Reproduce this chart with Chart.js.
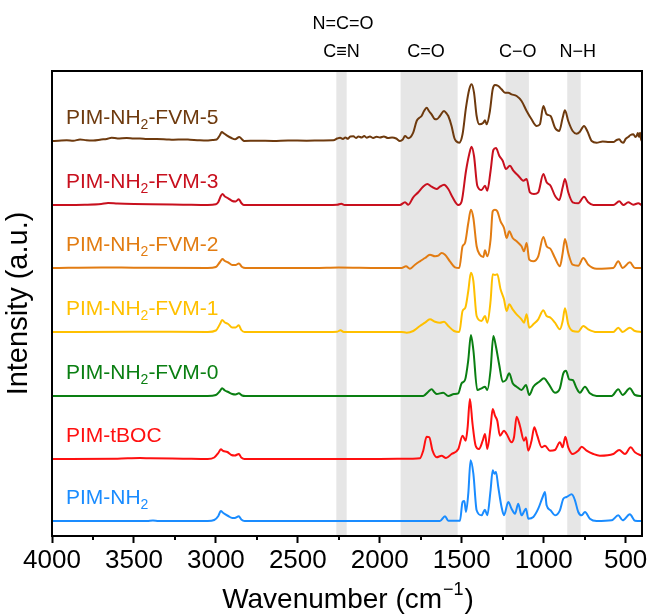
<!DOCTYPE html>
<html>
<head>
<meta charset="utf-8">
<script src="https://cdn.jsdelivr.net/npm/chart.js@4.4.1/dist/chart.umd.min.js"></script>
<style>
  body { margin: 0; background: #fff; }
  canvas { display: block; }
</style>
</head>
<body>
<canvas id="ftir" width="651" height="614"></canvas>
<script>
// FTIR spectra, [wavenumber, relative intensity] pairs, stacked by offset
const names = ['PIM-NH2-FVM-5', 'PIM-NH2-FVM-3', 'PIM-NH2-FVM-2', 'PIM-NH2-FVM-1', 'PIM-NH2-FVM-0', 'PIM-tBOC', 'PIM-NH2'];
const offsets = [395, 331, 268, 204, 140, 77, 15];

const fvm5 = [[4000,0],[3960,0.3],[3910,0.7],[3870,0.3],[3829,1.5],[3790,0.8],[3748,0.6],[3700,1.5],[3666,2],[3636,3.3],[3600,2.5],[3544,3],[3500,2.4],[3463,2.6],[3420,2],[3361,2],[3300,1.6],[3259,1.3],[3200,1.6],[3158,1.3],[3100,0.8],[3056,0.6],[3020,1],[2995,1.5],[2975,6],[2964,9],[2950,7.5],[2934,5.7],[2905,3],[2883,1.7],[2857,4],[2840,1.5],[2828,0],[2750,0.3],[2649,0],[2560,0.5],[2446,0.3],[2350,0.6],[2283,0.7],[2260,2.5],[2242,3.3],[2225,2],[2210,3.5],[2195,2.2],[2180,4.5],[2161,4.7],[2145,3],[2130,4.5],[2110,3.5],[2095,5],[2080,3.3],[2060,4.5],[2040,3],[2020,4.2],[1999,3.5],[1975,4.5],[1950,3],[1925,3.5],[1900,2.5],[1877,0],[1860,1.5],[1846,5],[1826,2.7],[1796,8.3],[1775,20],[1760,23],[1745,25],[1730,30],[1714,33.3],[1700,30],[1684,26.7],[1665,22],[1653,21.7],[1633,25],[1608,30],[1590,27],[1582,25],[1562,15],[1545,3],[1535,0],[1515,-1.7],[1495,6.7],[1474,33.3],[1454,51.7],[1440,56.7],[1425,48.3],[1409,25],[1393,16.7],[1368,18.3],[1358,20.7],[1348,16.7],[1328,30],[1311,51.7],[1297,56],[1277,55],[1257,51.7],[1236,48.3],[1216,48.3],[1196,46.7],[1165,45],[1135,40],[1104,30],[1074,21.7],[1043,15],[1023,16.7],[1002,35],[982,26.7],[958,25],[931,13.3],[905,10],[884,23.3],[870,30.7],[850,20],[823,10],[799,7.3],[779,9.3],[754,15],[734,10],[707,0],[677,-1.7],[640,-0.5],[600,-1],[575,-1],[555,1],[539,1.7],[525,-1],[514,-1.7],[500,2],[484,4],[470,6],[453,6.7],[440,4],[433,5],[425,8],[418,4],[412,8.3],[406,2],[402,0]];

const fvm3 = [[4000,0],[3800,0.3],[3700,1],[3658,2],[3600,1.5],[3500,1],[3400,0.7],[3200,0.3],[3050,0],[3000,0.7],[2985,3],[2970,9],[2960,11],[2945,8.5],[2925,6.7],[2900,4],[2880,3.5],[2860,5.7],[2845,2],[2830,0],[2700,0],[2400,0],[2260,0.3],[2235,1.3],[2215,0],[2000,0],[1877,0],[1846,2.7],[1826,0.3],[1796,7.7],[1765,12.7],[1739,17.7],[1710,21],[1684,18.3],[1653,16],[1633,18.3],[1608,20.3],[1582,16],[1556,7.7],[1521,0],[1501,3.3],[1474,34],[1454,51],[1440,58.3],[1425,49],[1405,19.3],[1379,15],[1358,19.3],[1344,14.3],[1324,34],[1307,55],[1291,57],[1271,49.3],[1250,44.3],[1230,36],[1206,39.3],[1185,34.3],[1155,29.3],[1124,24.3],[1104,26],[1084,12.7],[1059,11],[1033,12.7],[1002,31],[982,22.7],[958,19.3],[931,9.3],[905,5],[884,17.7],[870,26],[850,12.7],[823,2.7],[789,1.7],[754,8.3],[728,2.7],[697,0],[575,0],[539,3.7],[514,0],[484,2.7],[453,0.3],[423,1.7],[402,0]];

const fvm2 = [[4000,0],[3700,0.5],[3500,0.3],[3050,0],[3000,1],[2975,6],[2960,9],[2945,7],[2925,5.5],[2900,3],[2880,3],[2860,4.5],[2840,1],[2820,0],[2400,0],[2250,0.5],[2000,0],[1867,0],[1840,1.7],[1816,-0.7],[1785,3.3],[1755,6.7],[1724,10],[1694,13.3],[1663,11.7],[1643,12.3],[1623,15],[1602,13.3],[1572,6.7],[1541,0.7],[1515,0],[1495,21.7],[1480,25],[1460,45],[1444,58.3],[1429,50],[1409,21.7],[1389,13.3],[1368,11],[1358,17.7],[1344,11.7],[1324,28.3],[1311,56.7],[1297,58.3],[1283,56.7],[1263,46.7],[1242,40],[1226,30],[1210,36.7],[1189,30],[1165,26.7],[1135,21.7],[1120,16.7],[1104,25],[1088,8.3],[1063,6.7],[1033,11.7],[1002,31],[982,21.7],[958,19],[931,10],[901,1.7],[884,15],[870,29],[850,15],[823,3.3],[789,2.3],[758,10],[728,3.3],[677,-0.7],[575,0],[545,6.7],[518,0],[474,5.7],[443,0],[402,0]];

const fvm1 = [[4000,0],[3500,0.3],[3050,0],[3000,1.5],[2975,8],[2962,12],[2945,9.5],[2925,8],[2900,4.5],[2880,4.5],[2860,6.7],[2845,2],[2825,0],[2400,0],[2260,0.3],[2240,1.7],[2220,0],[2000,0],[1867,0],[1836,-0.7],[1796,1],[1755,6],[1724,9.3],[1694,12.7],[1663,10.3],[1633,9.3],[1608,10.3],[1582,6],[1547,1],[1515,0],[1495,21],[1478,24.3],[1460,41],[1444,59.3],[1429,51],[1409,16],[1379,11],[1358,16],[1344,9.3],[1324,31],[1311,57.7],[1297,57],[1283,57.7],[1263,42.7],[1242,32.7],[1226,21],[1210,27.7],[1189,22.7],[1165,17.7],[1135,12.7],[1120,9.3],[1104,17.7],[1088,4.3],[1063,7.7],[1033,12.7],[1002,21.7],[982,16],[958,14.3],[931,9.3],[901,2.7],[884,11],[870,23.7],[850,7.7],[823,1],[789,0.3],[758,6],[728,2.7],[677,0],[575,0],[545,4.3],[518,0],[474,4.3],[443,1],[402,0]];

const fvm0 = [[4000,0],[3050,0],[3000,1],[2975,5],[2962,7.7],[2945,5.5],[2925,4],[2900,2],[2880,1.5],[2860,2.7],[2840,0.5],[2820,0],[2000,0],[1735,0],[1704,4.3],[1684,6.7],[1665,3.5],[1653,2],[1613,3.3],[1582,0],[1547,2],[1521,2.7],[1501,12.7],[1480,16],[1460,36],[1444,61],[1429,46],[1405,6],[1379,7.7],[1358,9.3],[1344,6],[1324,26],[1307,60],[1291,49.3],[1271,31],[1250,14.3],[1230,16],[1210,22.7],[1189,12.7],[1165,9.3],[1135,6],[1108,11],[1088,1],[1063,9.3],[1027,14.3],[998,17.7],[972,12.7],[931,3.3],[901,7.7],[880,22.7],[864,25.3],[844,16.7],[823,16],[799,7.7],[779,3.3],[748,9.3],[718,2.7],[677,0],[585,0],[545,6.7],[518,1],[474,7.7],[443,1],[402,0]];

const tboc = [[4000,0],[3600,0.3],[3463,1],[3400,0.7],[3200,0.3],[3050,0],[3010,1.5],[2985,6],[2970,9.7],[2955,8],[2930,7],[2905,4],[2885,3.5],[2860,5],[2845,1.5],[2825,0],[2000,0],[1800,0.3],[1755,0.7],[1735,8.3],[1714,22.3],[1698,21.7],[1678,8.3],[1653,1.7],[1623,3.3],[1596,1],[1562,5],[1521,10],[1495,23.3],[1476,18.3],[1464,31.7],[1450,60],[1434,35],[1415,13.3],[1395,10],[1372,18.3],[1358,25],[1344,10],[1324,31.7],[1311,50],[1297,43.3],[1283,38.3],[1267,23.3],[1242,28.3],[1226,25],[1196,16.7],[1181,21.7],[1165,42.3],[1145,33.3],[1120,18.3],[1108,21.7],[1094,8.3],[1074,18.3],[1057,31.7],[1039,23.3],[1012,11.7],[992,13.3],[962,8.3],[931,9],[901,16.7],[884,11.7],[868,22.3],[850,11.7],[823,5],[789,8.3],[768,12.3],[738,8.3],[697,5],[657,3.3],[575,5],[539,9],[504,5],[469,11.7],[443,6.7],[402,3.3]];

const nh2 = [[4000,0],[3420,0],[3384,0.6],[3350,0],[3050,0],[3010,1],[2985,5],[2970,10],[2955,8],[2925,5],[2900,3],[2885,3],[2860,4.7],[2845,1.5],[2825,0],[1633,0],[1602,4.7],[1582,0.3],[1511,0.3],[1495,19],[1484,20],[1474,9],[1460,27.3],[1446,60.7],[1429,47.3],[1409,10.7],[1379,5.7],[1358,11.3],[1344,5.7],[1324,30.7],[1311,50.7],[1301,47.3],[1291,49],[1277,34],[1257,14],[1242,5.7],[1216,19],[1196,12.3],[1175,7.3],[1155,17.3],[1135,5.7],[1108,12.3],[1094,2.3],[1063,4],[1033,12.3],[1006,24],[992,29],[982,15.7],[958,10.7],[931,5.7],[901,10.7],[880,22.3],[860,24],[829,26.7],[809,20.7],[789,9],[768,5.7],[748,9],[718,2.3],[677,0],[585,0.7],[545,5.7],[518,0.7],[474,6.7],[443,0.3],[402,0]];

const spectra = [fvm5, fvm3, fvm2, fvm1, fvm0, tboc, nh2];
const colors = ['#6e3a0e', '#c8101e', '#e27c12', '#ffc000', '#0a7f12', '#ff1010', '#1a8cff'];

// highlighted absorption regions (wavenumber from, to) and their group labels
const bands = [[2265, 2202], [1873, 1525], [1232, 1090], [856, 774]];
const bandLabels = [['C\u2261N', 2234], ['C=O', 1718], ['C\u2212O', 1158], ['N\u2212H', 792]];
const topLabel = ['N=C=O', 2225];

const xTicks = [4000, 3500, 3000, 2500, 2000, 1500, 1000, 500];
const xMinor = [3750, 3250, 2750, 2250, 1750, 1250, 750];

const FONT = '"Liberation Sans", Arial, Helvetica, sans-serif';

// draws "PIM-NH" + subscript 2 + rest, left aligned at (x, y)
function drawSubLabel(ctx, text, x, y, size) {
  const parts = text.split('NH2');
  ctx.font = size + 'px ' + FONT;
  if (parts.length === 1) { ctx.fillText(text, x, y); return; }
  ctx.fillText(parts[0] + 'NH', x, y);
  x += ctx.measureText(parts[0] + 'NH').width;
  ctx.font = Math.round(size * 0.66) + 'px ' + FONT;
  ctx.fillText('2', x, y + 5);
  x += ctx.measureText('2').width;
  ctx.font = size + 'px ' + FONT;
  ctx.fillText(parts[1], x, y);
}

const decor = {
  id: 'decor',
  beforeDatasetsDraw(chart) {
    const { ctx, chartArea: a, scales: { x } } = chart;
    ctx.save();
    ctx.fillStyle = '#e6e6e6';
    bands.forEach(([from, to]) => {
      const x1 = x.getPixelForValue(from), x2 = x.getPixelForValue(to);
      ctx.fillRect(x1, a.top, x2 - x1, a.bottom - a.top);
    });
    ctx.restore();
  },
  afterDraw(chart) {
    const { ctx, chartArea: a, scales: { x, y } } = chart;
    ctx.save();
    // plot frame
    ctx.strokeStyle = '#000';
    ctx.lineWidth = 2;
    ctx.strokeRect(a.left, a.top, a.right - a.left, a.bottom - a.top);
    // minor ticks
    ctx.beginPath();
    xMinor.forEach(v => {
      const px = Math.round(x.getPixelForValue(v));
      ctx.moveTo(px, a.bottom);
      ctx.lineTo(px, a.bottom + 4);
    });
    ctx.stroke();

    ctx.fillStyle = '#000';
    ctx.textBaseline = 'middle';
    ctx.textAlign = 'center';
    ctx.font = '18px ' + FONT;
    bandLabels.forEach(([t, w]) => ctx.fillText(t, x.getPixelForValue(w), a.top - 19));
    ctx.fillText(topLabel[0], x.getPixelForValue(topLabel[1]), a.top - 47);

    // axis titles
    ctx.font = '28px ' + FONT;
    const main = 'Wavenumber (cm', sup = '\u22121', close = ')';
    const wMain = ctx.measureText(main).width, wClose = ctx.measureText(close).width;
    ctx.font = '18px ' + FONT;
    const wSup = ctx.measureText(sup).width;
    let tx = (a.left + a.right) / 2 - (wMain + wSup + wClose) / 2;
    ctx.textAlign = 'left';
    ctx.font = '28px ' + FONT;
    ctx.fillText(main, tx, 600);
    ctx.font = '18px ' + FONT;
    ctx.fillText(sup, tx + wMain + 1, 590);
    ctx.font = '28px ' + FONT;
    ctx.fillText(close, tx + wMain + wSup + 2, 600);

    ctx.translate(19, (a.top + a.bottom) / 2);
    ctx.rotate(-Math.PI / 2);
    ctx.textAlign = 'center';
    ctx.font = '29px ' + FONT;
    ctx.fillText('Intensity (a.u.)', 0, 0);
    ctx.restore();

    // series names
    ctx.save();
    ctx.textBaseline = 'alphabetic';
    ctx.textAlign = 'left';
    names.forEach((n, i) => {
      ctx.fillStyle = colors[i];
      drawSubLabel(ctx, n, x.getPixelForValue(3915), y.getPixelForValue(offsets[i]) - 17, 21);
    });
    ctx.restore();
  }
};

const ctx = document.getElementById('ftir').getContext('2d');
new Chart(ctx, {
  type: 'line',
  data: {
    datasets: names.map((n, i) => ({
      label: n,
      data: spectra[i].map(([w, h]) => ({ x: w, y: offsets[i] + h })),
      borderColor: colors[i],
      borderWidth: 2,
      pointRadius: 0,
      cubicInterpolationMode: 'monotone',
      fill: false
    }))
  },
  options: {
    responsive: false,
    animation: false,
    devicePixelRatio: 1,
    layout: { padding: { left: 52, top: 71, right: 9, bottom: 0 } },
    plugins: { legend: { display: false }, tooltip: { enabled: false } },
    scales: {
      x: {
        type: 'linear',
        reverse: true,
        min: 400,
        max: 4000,
        afterBuildTicks: s => { s.ticks = xTicks.map(v => ({ value: v })); },
        afterFit: s => { s.height = 78; },
        grid: { drawOnChartArea: false, drawTicks: true, tickLength: 7, tickWidth: 2, tickColor: '#000' },
        border: { display: false },
        ticks: {
          font: { family: FONT, size: 26 },
          color: '#000',
          padding: 2,
          maxRotation: 0,
          autoSkip: false,
          callback: v => String(v)
        }
      },
      y: { display: false, min: 0, max: 465 }
    }
  },
  plugins: [decor]
});
</script>
</body>
</html>
